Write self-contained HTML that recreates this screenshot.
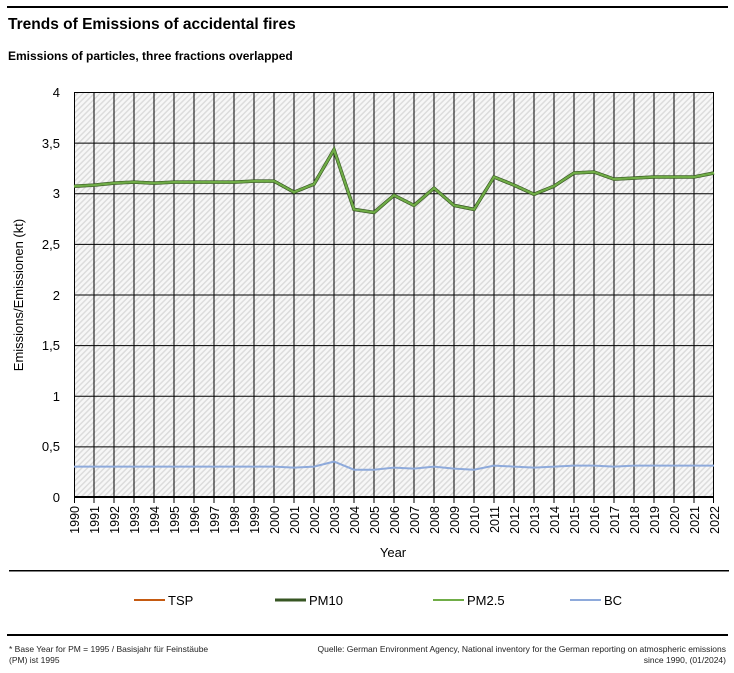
<!DOCTYPE html>
<html><head><meta charset="utf-8"><style>
html,body{margin:0;padding:0;background:#fff;}
svg{display:block;font-family:"Liberation Sans",sans-serif;}
</style></head><body>
<svg width="734" height="673" viewBox="0 0 734 673" xmlns="http://www.w3.org/2000/svg">
<defs>
<pattern id="h" width="4" height="4" patternUnits="userSpaceOnUse" patternTransform="rotate(45)">
<rect width="4" height="4" fill="#f7f7f7"/>
<rect width="1.5" height="4" fill="#dcdcdc"/>
</pattern>
</defs>
<rect x="7" y="6" width="721" height="2" fill="#000"/>
<text x="8" y="29" font-size="15.5" font-weight="bold">Trends of Emissions of accidental fires</text>
<text x="8" y="60" font-size="12" font-weight="bold">Emissions of particles, three fractions overlapped</text>
<rect x="74" y="92" width="640" height="405" fill="url(#h)"/>
<g stroke="#000" stroke-width="1">
<path d="M74 92.5H714M74 143.1H714M74 193.8H714M74 244.4H714M74 295H714M74 345.6H714M74 396.3H714M74 446.9H714"/>
<path d="M74.5 92V503M94 92V503M114 92V503M134 92V503M154 92V503M174 92V503M194 92V503M214 92V503M234 92V503M254 92V503M274 92V503M294 92V503M314 92V503M334 92V503M354 92V503M374 92V503M394 92V503M414 92V503M434 92V503M454 92V503M474 92V503M494 92V503M514 92V503M534 92V503M554 92V503M574 92V503M594 92V503M614 92V503M634 92V503M654 92V503M674 92V503M694 92V503M713.5 92V503"/>
</g>
<rect x="74" y="496" width="640" height="2" fill="#000"/>
<g font-size="13" text-anchor="end">
<text x="60" y="97">4</text><text x="60" y="148">3,5</text><text x="60" y="198">3</text><text x="60" y="249">2,5</text><text x="60" y="300">2</text><text x="60" y="350">1,5</text><text x="60" y="401">1</text><text x="60" y="451">0,5</text><text x="60" y="502">0</text>
</g>
<text transform="translate(23,295) rotate(-90)" font-size="13" text-anchor="middle">Emissions/Emissionen (kt)</text>
<g font-size="12.5" text-anchor="end">
<text transform="translate(79,506) rotate(-90)">1990</text><text transform="translate(99,506) rotate(-90)">1991</text><text transform="translate(119,506) rotate(-90)">1992</text><text transform="translate(139,506) rotate(-90)">1993</text><text transform="translate(159,506) rotate(-90)">1994</text><text transform="translate(179,506) rotate(-90)">1995</text><text transform="translate(199,506) rotate(-90)">1996</text><text transform="translate(219,506) rotate(-90)">1997</text><text transform="translate(239,506) rotate(-90)">1998</text><text transform="translate(259,506) rotate(-90)">1999</text><text transform="translate(279,506) rotate(-90)">2000</text><text transform="translate(299,506) rotate(-90)">2001</text><text transform="translate(319,506) rotate(-90)">2002</text><text transform="translate(339,506) rotate(-90)">2003</text><text transform="translate(359,506) rotate(-90)">2004</text><text transform="translate(379,506) rotate(-90)">2005</text><text transform="translate(399,506) rotate(-90)">2006</text><text transform="translate(419,506) rotate(-90)">2007</text><text transform="translate(439,506) rotate(-90)">2008</text><text transform="translate(459,506) rotate(-90)">2009</text><text transform="translate(479,506) rotate(-90)">2010</text><text transform="translate(499,506) rotate(-90)">2011</text><text transform="translate(519,506) rotate(-90)">2012</text><text transform="translate(539,506) rotate(-90)">2013</text><text transform="translate(559,506) rotate(-90)">2014</text><text transform="translate(579,506) rotate(-90)">2015</text><text transform="translate(599,506) rotate(-90)">2016</text><text transform="translate(619,506) rotate(-90)">2017</text><text transform="translate(639,506) rotate(-90)">2018</text><text transform="translate(659,506) rotate(-90)">2019</text><text transform="translate(679,506) rotate(-90)">2020</text><text transform="translate(699,506) rotate(-90)">2021</text><text transform="translate(719,506) rotate(-90)">2022</text>
</g>
<text x="393" y="557" font-size="13" text-anchor="middle">Year</text>
<polyline fill="none" stroke="#8eaadb" stroke-width="2" points="74,466.6 94,466.6 114,466.6 134,466.6 154,466.6 174,466.6 194,466.6 214,466.6 234,466.6 254,466.6 274,466.6 294,467.6 314,466.6 334,461.6 354,469.7 374,469.7 394,467.6 414,468.6 434,466.6 454,468.6 474,469.7 494,465.6 514,466.6 534,467.6 554,466.6 574,465.6 594,465.6 614,466.6 634,465.6 654,465.6 674,465.6 694,465.6 714,465.6"/>
<polyline fill="none" stroke="#375623" stroke-width="3.5" points="74,186.2 94,185.1 114,183.1 134,182.1 154,183.1 174,182.1 194,182.1 214,182.1 234,182.1 254,181.1 274,181.1 294,192.2 314,184.1 334,149.7 354,209.4 374,212.5 394,195.3 414,205.4 434,188.2 454,205.4 474,209.4 494,177 514,185.1 534,194.3 554,186.2 574,173 594,172 614,179.1 634,178.1 654,177 674,177 694,177 714,173"/>
<polyline fill="none" stroke="#70ad47" stroke-width="2.2" points="74,186.2 94,185.1 114,183.1 134,182.1 154,183.1 174,182.1 194,182.1 214,182.1 234,182.1 254,181.1 274,181.1 294,192.2 314,184.1 334,149.7 354,209.4 374,212.5 394,195.3 414,205.4 434,188.2 454,205.4 474,209.4 494,177 514,185.1 534,194.3 554,186.2 574,173 594,172 614,179.1 634,178.1 654,177 674,177 694,177 714,173"/>
<rect x="9" y="570" width="720" height="1.5" fill="#000"/>
<g font-size="13">
<line x1="134" y1="600" x2="165" y2="600" stroke="#c55a11" stroke-width="2"/><text x="168" y="605">TSP</text>
<line x1="275" y1="600" x2="306" y2="600" stroke="#375623" stroke-width="3"/><text x="309" y="605">PM10</text>
<line x1="433" y1="600" x2="464" y2="600" stroke="#70ad47" stroke-width="2"/><text x="467" y="605">PM2.5</text>
<line x1="570" y1="600" x2="601" y2="600" stroke="#8eaadb" stroke-width="2"/><text x="604" y="605">BC</text>
</g>
<rect x="7" y="634" width="721" height="2" fill="#000"/>
<g font-size="8.5" fill="#222">
<text x="9" y="652">* Base Year for PM = 1995 / Basisjahr für Feinstäube</text>
<text x="9" y="663">(PM) ist 1995</text>
<text x="726" y="652" text-anchor="end">Quelle: German Environment Agency, National inventory for the German reporting on atmospheric emissions</text>
<text x="726" y="663" text-anchor="end">since 1990, (01/2024)</text>
</g>
</svg>
</body></html>
